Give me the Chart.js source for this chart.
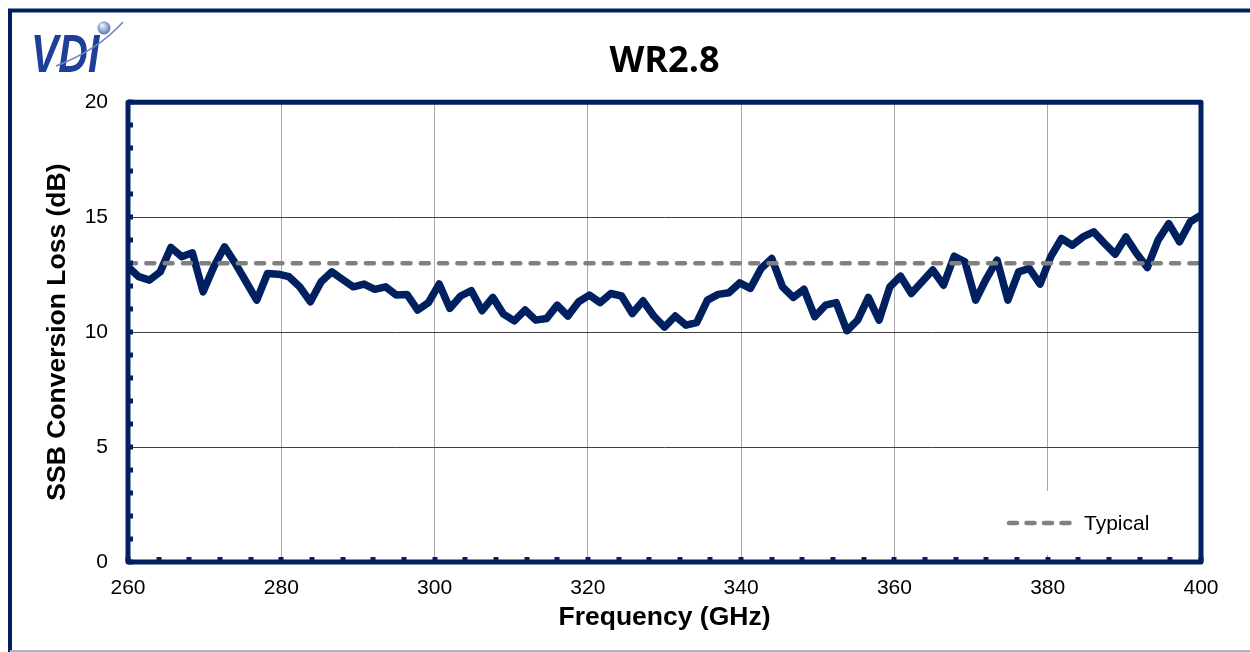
<!DOCTYPE html>
<html><head><meta charset="utf-8">
<script src="https://cdn.jsdelivr.net/npm/chart.js@4.4.1/dist/chart.umd.min.js"></script>
<style>html,body{margin:0;padding:0;background:#fff;}canvas{display:block;}</style>
</head><body>
<canvas id="c" width="1250" height="652"></canvas>
<script>
// ---------- DATA ----------
const chartTitle = 'WR2.8';
const xAxisTitle = 'Frequency (GHz)';
const yAxisTitle = 'SSB Conversion Loss (dB)';
const legendLabel = 'Typical';

const frequencies = [
  260.0, 261.4, 262.8, 264.2, 265.6, 267.0, 268.4, 269.8, 271.2, 272.6,
  274.0, 275.4, 276.8, 278.2, 279.6, 281.0, 282.4, 283.8, 285.2, 286.6,
  288.0, 289.4, 290.8, 292.2, 293.6, 295.0, 296.4, 297.8, 299.2, 300.6,
  302.0, 303.4, 304.8, 306.2, 307.6, 309.0, 310.4, 311.8, 313.2, 314.6,
  316.0, 317.4, 318.8, 320.2, 321.6, 323.0, 324.4, 325.8, 327.2, 328.6,
  330.0, 331.4, 332.8, 334.2, 335.6, 337.0, 338.4, 339.8, 341.2, 342.6,
  344.0, 345.4, 346.8, 348.2, 349.6, 351.0, 352.4, 353.8, 355.2, 356.6,
  358.0, 359.4, 360.8, 362.2, 363.6, 365.0, 366.4, 367.8, 369.2, 370.6,
  372.0, 373.4, 374.8, 376.2, 377.6, 379.0, 380.4, 381.8, 383.2, 384.6,
  386.0, 387.4, 388.8, 390.2, 391.6, 393.0, 394.4, 395.8, 397.2, 398.6,
  400.0
];
const conversionLoss = [
  12.84, 12.41, 12.26, 12.62, 13.68, 13.28, 13.45, 11.75, 12.84, 13.71,
  12.99, 12.19, 11.39, 12.55, 12.52, 12.41, 11.97, 11.32, 12.19, 12.62,
  12.29, 11.97, 12.09, 11.86, 11.97, 11.61, 11.64, 10.96, 11.28, 12.09,
  11.03, 11.57, 11.80, 10.93, 11.51, 10.78, 10.49, 10.96, 10.52, 10.59,
  11.17, 10.70, 11.32, 11.61, 11.28, 11.68, 11.57, 10.81, 11.36, 10.70,
  10.22, 10.70, 10.30, 10.41, 11.39, 11.64, 11.71, 12.14, 11.90, 12.77,
  13.20, 11.97, 11.51, 11.86, 10.67, 11.17, 11.28, 10.06, 10.52, 11.51,
  10.52, 11.97, 12.43, 11.68, 12.19, 12.70, 12.04, 13.30, 13.06, 11.39,
  12.33, 13.13, 11.39, 12.62, 12.77, 12.09, 13.28, 14.07, 13.78, 14.14,
  14.36, 13.86, 13.39, 14.14, 13.42, 12.81, 14.00, 14.72, 13.93, 14.80,
  15.09
];
const typicalFreq = [260, 400];
const typicalLoss = [13, 13];

const xTickValues = [260, 280, 300, 320, 340, 360, 380, 400];
const yTickValues = [0, 5, 10, 15, 20];
const xMinorStep = 4;
const yMinorStep = 1;

// ---------- STYLE ----------
const NAVY = '#002060';
const FONT = '"Liberation Sans", Arial, sans-serif';
Chart.defaults.font.family = FONT;
Chart.defaults.color = '#000';

function drawLogo(ctx) {
  ctx.save();
  ctx.translate(31, 72);
  ctx.scale(0.76, 1);
  ctx.fillStyle = '#1d3f98';
  ctx.font = 'italic bold 54px ' + FONT;
  ctx.textBaseline = 'alphabetic';
  ctx.textAlign = 'left';
  ctx.fillText('VDI', 0, 0);
  ctx.restore();
  // swoosh
  ctx.save();
  ctx.strokeStyle = '#6f84c2';
  ctx.lineWidth = 1.6;
  ctx.beginPath();
  ctx.moveTo(56, 66);
  ctx.quadraticCurveTo(98, 50, 123, 22);
  ctx.stroke();
  ctx.restore();
  // sphere
  ctx.save();
  const g = ctx.createRadialGradient(102, 25, 1, 104, 28, 7);
  g.addColorStop(0, '#e8eef8');
  g.addColorStop(0.6, '#8fa6d6');
  g.addColorStop(1, '#4a66b2');
  ctx.fillStyle = g;
  ctx.beginPath();
  ctx.arc(104, 28, 6.5, 0, Math.PI * 2);
  ctx.fill();
  ctx.restore();
}

const decor = {
  id: 'decor',
  beforeDraw(chart) {
    const ctx = chart.ctx;
    ctx.save();
    ctx.fillStyle = '#fff';
    ctx.fillRect(0, 0, chart.width, chart.height);
    ctx.strokeStyle = NAVY;
    ctx.lineWidth = 4;
    ctx.beginPath();
    ctx.moveTo(10, chart.height);
    ctx.lineTo(10, 10.5);
    ctx.lineTo(chart.width, 10.5);
    ctx.stroke();
    ctx.strokeStyle = '#aab4cc';
    ctx.lineWidth = 2;
    ctx.beginPath();
    ctx.moveTo(10, chart.height - 1);
    ctx.lineTo(chart.width, chart.height - 1);
    ctx.stroke();
    ctx.restore();
    drawLogo(ctx);
  },
  afterDatasetsDraw(chart) {
    const ctx = chart.ctx;
    const ca = chart.chartArea;
    const xs = chart.scales.x, ys = chart.scales.y;
    ctx.save();
    // legend box (white) and entry
    ctx.fillStyle = '#fff';
    ctx.fillRect(ca.right - 212, ca.bottom - 71, 205, 64);
    ctx.strokeStyle = '#808080';
    ctx.lineWidth = 4.5;
    ctx.lineCap = 'round';
    ctx.setLineDash([8, 9.5]);
    ctx.beginPath();
    ctx.moveTo(ca.right - 192, ca.bottom - 39);
    ctx.lineTo(ca.right - 126, ca.bottom - 39);
    ctx.stroke();
    ctx.setLineDash([]);
    ctx.fillStyle = '#000';
    ctx.font = '21px ' + FONT;
    ctx.textBaseline = 'alphabetic';
    ctx.textAlign = 'left';
    ctx.fillText(legendLabel, ca.right - 117, ca.bottom - 32);

    // minor ticks (inward)
    ctx.strokeStyle = NAVY;
    ctx.lineWidth = 5;
    ctx.lineCap = 'butt';
    ctx.beginPath();
    for (let v = xs.min; v <= xs.max + 1e-9; v += xMinorStep) {
      const px = Math.round(xs.getPixelForValue(v));
      ctx.moveTo(px, ca.bottom);
      ctx.lineTo(px, ca.bottom - 5);
    }
    for (let v = ys.min; v <= ys.max + 1e-9; v += yMinorStep) {
      const py = Math.round(ys.getPixelForValue(v));
      ctx.moveTo(ca.left, py);
      ctx.lineTo(ca.left + 5, py);
    }
    ctx.stroke();

    // plot border
    ctx.lineWidth = 5;
    ctx.lineJoin = 'round';
    ctx.strokeRect(ca.left, ca.top, ca.right - ca.left, ca.bottom - ca.top);
    ctx.restore();
  }
};

new Chart(document.getElementById('c'), {
  type: 'line',
  data: {
    datasets: [
      {
        label: legendLabel,
        data: typicalFreq.map((f, i) => ({ x: f, y: typicalLoss[i] })),
        borderColor: '#808080',
        borderWidth: 4.5,
        borderDash: [8, 10.3],
        borderCapStyle: 'round',
        pointRadius: 0,
        fill: false,
        order: 0
      },
      {
        label: 'SSB Conversion Loss',
        data: frequencies.map((f, i) => ({ x: f, y: conversionLoss[i] })),
        borderColor: NAVY,
        borderWidth: 7.5,
        borderJoinStyle: 'round',
        borderCapStyle: 'round',
        pointRadius: 0,
        tension: 0,
        fill: false,
        order: 1
      }
    ]
  },
  options: {
    responsive: false,
    animation: false,
    devicePixelRatio: 1,
    layout: { padding: { left: 38, right: 49, top: 0, bottom: 15 } },
    plugins: {
      legend: { display: false },
      tooltip: { enabled: false },
      title: {
        display: true,
        text: chartTitle,
        fullSize: false,
        color: '#000',
        font: { family: '"Open Sans", sans-serif', size: 36, weight: 'bold' },
        padding: { top: 40, bottom: 19 }
      }
    },
    scales: {
      x: {
        type: 'linear',
        min: xTickValues[0],
        max: xTickValues[xTickValues.length - 1],
        afterBuildTicks: (s) => { s.ticks = xTickValues.map(v => ({ value: v })); },
        afterFit: (s) => { s.height = 75; },
        ticks: { font: { size: 21 }, padding: 14, color: '#000', maxRotation: 0 },
        grid: {
          drawTicks: false,
          lineWidth: 1,
          color: (c) => (c.tick && c.tick.value > 260 && c.tick.value < 400) ? '#a6a6a6' : 'rgba(0,0,0,0)'
        },
        border: { display: false },
        title: { display: true, text: xAxisTitle, font: { size: 26.5, weight: 'bold' }, color: '#000', padding: { top: 4, bottom: 3 } }
      },
      y: {
        min: yTickValues[0],
        max: yTickValues[yTickValues.length - 1],
        afterBuildTicks: (s) => { s.ticks = yTickValues.map(v => ({ value: v })); },
        afterFit: (s) => { s.width = 90; },
        ticks: { font: { size: 21 }, padding: 20, color: '#000' },
        grid: {
          drawTicks: false,
          lineWidth: 1,
          color: (c) => (c.tick && c.tick.value > 0 && c.tick.value < 20) ? '#404040' : 'rgba(0,0,0,0)'
        },
        border: { display: false },
        title: { display: true, text: yAxisTitle, font: { size: 26.5, weight: 'bold' }, color: '#000', padding: { top: 4, bottom: 4 } }
      }
    }
  },
  plugins: [decor]
});
</script>
</body></html>
